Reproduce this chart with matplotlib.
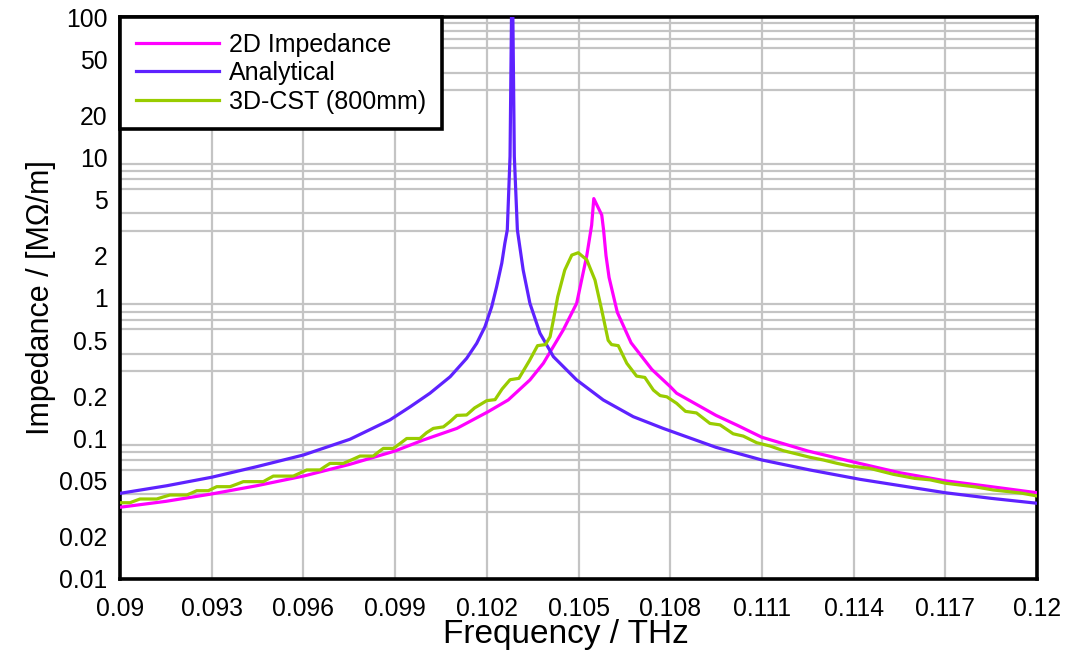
import matplotlib
matplotlib.use("Agg")
import matplotlib.pyplot as plt
from matplotlib.ticker import FixedLocator, LogLocator, NullFormatter

plt.rcParams['font.family'] = ['Liberation Sans', 'DejaVu Sans']

# ---- data (frequency in THz, impedance in MOhm/m) ----
analytical_f = [0.0900, 0.09153, 0.0930, 0.09447, 0.0960, 0.09752, 0.09883, 0.09949,
                0.10014, 0.10080, 0.10134, 0.10167, 0.10194, 0.10216, 0.10232,
                0.10249, 0.10259, 0.10267, 0.10276, 0.10283,
                0.10290, 0.10300, 0.10319, 0.10341, 0.10374, 0.10418, 0.10494,
                0.10581, 0.10679, 0.10777, 0.1095, 0.1110, 0.11257, 0.11421,
                0.1156, 0.1170, 0.1185, 0.1200]
analytical_z = [0.0407, 0.0461, 0.0530, 0.063, 0.0763, 0.0987, 0.1355, 0.168,
                0.210, 0.275, 0.372, 0.476, 0.625, 0.867, 1.20,
                1.77, 2.45, 3.05, 10.2, 300.0,
                10.2, 3.05, 1.58, 0.917, 0.561, 0.382, 0.261,
                0.188, 0.143, 0.118, 0.0865, 0.0703, 0.0597, 0.0512,
                0.0459, 0.0411, 0.0375, 0.0346]

imp2d_f = [0.0900, 0.0915, 0.0930, 0.09447, 0.0960, 0.09752, 0.0990, 0.09992,
           0.10102, 0.10204, 0.10270, 0.10341, 0.10385, 0.10450, 0.10494,
           0.10527, 0.10543, 0.10550, 0.10576, 0.10582, 0.10590, 0.10600,
           0.10627, 0.10672, 0.10740, 0.10800, 0.10821, 0.1095, 0.1102, 0.1110,
           0.1125, 0.1140, 0.1155, 0.1170, 0.1185, 0.1200]
imp2d_z = [0.0324, 0.0357, 0.0403, 0.0461, 0.054, 0.0655, 0.0815, 0.0975,
           0.118, 0.155, 0.188, 0.261, 0.343, 0.592, 0.917,
           2.0, 3.3, 5.1, 3.9, 3.05, 2.0, 1.4,
           0.79, 0.48, 0.31, 0.234, 0.21, 0.146, 0.124, 0.102,
           0.0815, 0.068, 0.0571, 0.050, 0.0454, 0.0411]

cst_f = [0.09000, 0.090327, 0.090490, 0.090654, 0.091201, 0.091420, 0.091636, 0.092182,
         0.092350, 0.092509, 0.092889, 0.093030, 0.093164, 0.093599, 0.093820,
         0.094034, 0.094688, 0.094850, 0.095015, 0.095670, 0.095890, 0.096108,
         0.096543, 0.096700, 0.096870, 0.097305, 0.097580, 0.097852, 0.098287,
         0.098450, 0.098614, 0.098941, 0.099160, 0.09938, 0.09981, 0.10003,
         0.10025, 0.10058, 0.10080, 0.10102, 0.10134, 0.10160, 0.10200,
         0.10227, 0.10250, 0.10276, 0.10305, 0.10340, 0.10366, 0.10392,
         0.10407, 0.10418, 0.10432, 0.10455, 0.10478, 0.10499, 0.10527,
         0.10554, 0.10576, 0.10597, 0.10608, 0.10630, 0.10658, 0.10690,
         0.10717, 0.10745, 0.10767, 0.10789, 0.10821, 0.10850, 0.10886,
         0.10930, 0.10963, 0.11006, 0.11039, 0.11083, 0.11126, 0.11170,
         0.11214, 0.11257, 0.11301, 0.11345, 0.11388, 0.11453, 0.11530,
         0.11600, 0.11650, 0.11702, 0.11750, 0.11800, 0.11857, 0.11900,
         0.11950, 0.12000]
cst_z = [0.0349, 0.0349, 0.0360, 0.0371, 0.0371, 0.0384, 0.0396, 0.0396,
         0.0410, 0.0425, 0.0425, 0.0440, 0.0454, 0.0454, 0.0473,
         0.0493, 0.0493, 0.0516, 0.054, 0.054, 0.0568, 0.0597,
         0.0597, 0.0630, 0.0665, 0.0665, 0.0705, 0.075, 0.075,
         0.0800, 0.085, 0.085, 0.0920, 0.100, 0.100, 0.110,
         0.118, 0.121, 0.132, 0.146, 0.147, 0.165, 0.186,
         0.189, 0.225, 0.262, 0.268, 0.360, 0.458, 0.466,
         0.53, 0.70, 1.02, 1.58, 2.02, 2.10, 1.87,
         1.34, 0.82, 0.50, 0.466, 0.458, 0.343, 0.278,
         0.272, 0.221, 0.202, 0.198, 0.178, 0.156, 0.152,
         0.128, 0.125, 0.108, 0.104, 0.0933, 0.0885, 0.0819,
         0.0776, 0.0735, 0.0703, 0.0666, 0.0637, 0.0613, 0.0556,
         0.052, 0.0508, 0.048, 0.0466, 0.0452, 0.043, 0.0420,
         0.0408, 0.039]

x_ticks = [0.09, 0.093, 0.096, 0.099, 0.102, 0.105, 0.108, 0.111, 0.114, 0.117, 0.12]
x_tick_labels = ['0.09', '0.093', '0.096', '0.099', '0.102', '0.105', '0.108',
                 '0.111', '0.114', '0.117', '0.12']
y_ticks = [0.01, 0.02, 0.05, 0.1, 0.2, 0.5, 1, 2, 5, 10, 20, 50, 100]
y_tick_labels = ['0.01', '0.02', '0.05', '0.1', '0.2', '0.5', '1', '2', '5',
                 '10', '20', '50', '100']

# ---- figure ----
fig = plt.figure(figsize=(10.65, 6.54), dpi=100)
ax = fig.add_axes([0.1127, 0.1147, 0.8610, 0.8593])

c_mag = '#FF00FF'
c_blue = '#5E22FF'
c_green = '#99CC00'
lw = 2.3

ax.plot(imp2d_f, imp2d_z, color=c_mag, lw=lw, label='2D Impedance', zorder=3)
ax.plot(analytical_f, analytical_z, color=c_blue, lw=lw, label='Analytical', zorder=3)
ax.plot(cst_f, cst_z, color=c_green, lw=lw, label='3D-CST (800mm)', zorder=4)

ax.set_yscale('log')
ax.set_xlim(0.09, 0.12)
ax.set_ylim(0.01, 100)

ax.xaxis.set_major_locator(FixedLocator(x_ticks))
ax.set_xticklabels(x_tick_labels)
ax.yaxis.set_major_locator(FixedLocator(y_ticks))
ax.set_yticklabels(y_tick_labels)
ax.yaxis.set_minor_locator(LogLocator(base=10, subs=[1, 2, 3, 4, 5, 6, 7, 8, 9]))
ax.yaxis.set_minor_formatter(NullFormatter())

gc = '#C4C4C4'
ax.grid(True, which='major', axis='x', color=gc, lw=1.6, zorder=0)
ax.grid(True, which='minor', axis='y', color=gc, lw=1.6, zorder=0)
ax.set_axisbelow(True)

ax.tick_params(axis='both', which='both', length=0, labelsize=17.8)
ax.tick_params(axis='x', pad=13)
ax.tick_params(axis='y', pad=9)

for s in ax.spines.values():
    s.set_linewidth(2.6)
    s.set_color('black')

ax.set_xlabel('Frequency / THz', fontsize=24, labelpad=1)
ax.xaxis.set_label_coords(0.486, -0.071)
ax.set_ylabel('Impedance / [M\u03a9/m]', fontsize=22, labelpad=2)

leg = ax.legend(loc='upper left', bbox_to_anchor=(0, 1), borderaxespad=0,
                fontsize=18, frameon=True, fancybox=False, handlelength=3.35,
                handletextpad=0.4, labelspacing=0.18, borderpad=0.62)
leg.get_frame().set_edgecolor('black')
leg.get_frame().set_linewidth(2.6)
leg.get_frame().set_alpha(1)
for l in leg.get_lines():
    l.set_linewidth(2.3)

fig.savefig('out.png', dpi=100)
